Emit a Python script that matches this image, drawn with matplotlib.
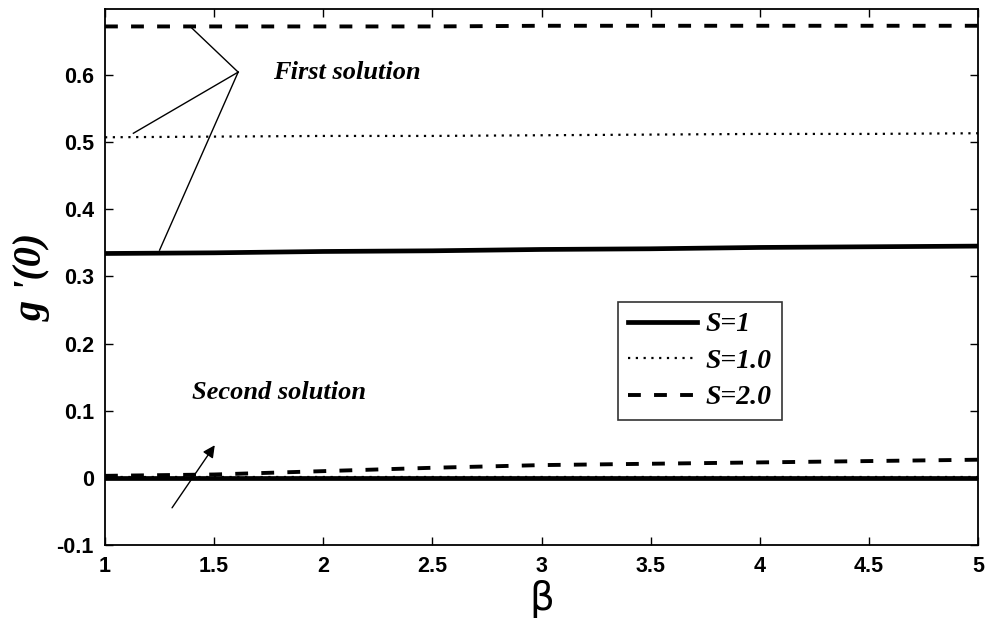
import matplotlib
matplotlib.use("Agg")
import matplotlib.pyplot as plt
import numpy as np

beta = [1.0, 1.5, 2.0, 2.5, 3.0, 3.5, 4.0, 4.5, 5.0]
# first solutions
first_S1 = [0.334, 0.335, 0.337, 0.338, 0.340, 0.341, 0.343, 0.344, 0.345]
first_S10 = [0.507, 0.508, 0.509, 0.509, 0.510, 0.511, 0.512, 0.512, 0.513]
first_S20 = [0.672, 0.672, 0.672, 0.672, 0.673, 0.673, 0.673, 0.673, 0.673]
# second solutions
second_S1 = [0.000, 0.000, 0.000, 0.000, 0.000, 0.000, 0.000, 0.000, 0.000]
second_S10 = [0.001, 0.001, 0.001, 0.001, 0.001, 0.001, 0.001, 0.001, 0.001]
second_S20 = [0.003, 0.005, 0.010, 0.015, 0.019, 0.021, 0.023, 0.025, 0.027]

labels = ["S=1", "S=1.0", "S=2.0"]
xticks = [1, 1.5, 2, 2.5, 3, 3.5, 4, 4.5, 5]
xticklabels = ["1", "1.5", "2", "2.5", "3", "3.5", "4", "4.5", "5"]
yticks = [-0.1, 0, 0.1, 0.2, 0.3, 0.4, 0.5, 0.6]
yticklabels = ["-0.1", "0", "0.1", "0.2", "0.3", "0.4", "0.5", "0.6"]

fig = plt.figure(figsize=(9.86, 6.19), dpi=100)
ax = fig.add_axes([0.1065, 0.1195, 0.8855, 0.866])

serif = "Liberation Serif"
sans = "Liberation Sans"
dash = (0, (3.3, 3.4))
dot = (0, (1, 2.5))

l1, = ax.plot(beta, first_S1, color="black", lw=3.4, linestyle="-")
l2, = ax.plot(beta, first_S10, color="black", lw=1.6, linestyle=dot)
l3, = ax.plot(beta, first_S20, color="black", lw=2.8, linestyle=dash)
ax.plot(beta, second_S10, color="black", lw=1.6, linestyle=dot)
ax.plot(beta, second_S1, color="black", lw=3.4, linestyle="-")
ax.plot(beta, second_S20, color="black", lw=2.8, linestyle=dash)

ax.set_xlim(1, 5)
ax.set_ylim(-0.1, 0.698)
ax.set_xticks(xticks)
ax.set_xticklabels(xticklabels)
ax.set_yticks(yticks)
ax.set_yticklabels(yticklabels)
ax.tick_params(direction="in", top=True, right=True, length=6, width=1.0, pad=8)
for lab in ax.get_xticklabels() + ax.get_yticklabels():
    lab.set_fontfamily(sans)
    lab.set_fontweight("bold")
    lab.set_fontsize(15.5)
for sp in ax.spines.values():
    sp.set_linewidth(1.3)

ax.set_xlabel("β", fontsize=28, fontfamily="DejaVu Sans", labelpad=2)
ax.set_ylabel("g '(0)", fontsize=29, fontfamily=serif, fontweight="bold",
              fontstyle="italic", labelpad=4)

# annotations: first solution
ax.text(1.77, 0.603, "First solution", fontsize=19, fontfamily=serif,
        fontweight="bold", fontstyle="italic", va="center", ha="left")
hub = (1.61, 0.604)
for tgt in [(1.39, 0.672), (1.13, 0.513), (1.25, 0.339)]:
    ax.plot([hub[0], tgt[0]], [hub[1], tgt[1]], color="black", lw=1.0)

# second solution
ax.text(1.40, 0.127, "Second solution", fontsize=19, fontfamily=serif,
        fontweight="bold", fontstyle="italic", va="center", ha="left")
ax.annotate("", xy=(1.51, 0.052), xytext=(1.30, -0.048),
            arrowprops=dict(arrowstyle="-|>", color="black", lw=1.0,
                            mutation_scale=18))

leg = ax.legend([l1, l2, l3], labels, loc="upper left",
                bbox_to_anchor=(0.572, 0.479), frameon=True, fancybox=False,
                edgecolor="black", handlelength=2.5, borderpad=0.35,
                labelspacing=0.4, handletextpad=0.3,
                prop=dict(family=serif, weight="bold", style="italic", size=20))
leg.get_frame().set_linewidth(1.2)

fig.savefig("out.png", dpi=100)
